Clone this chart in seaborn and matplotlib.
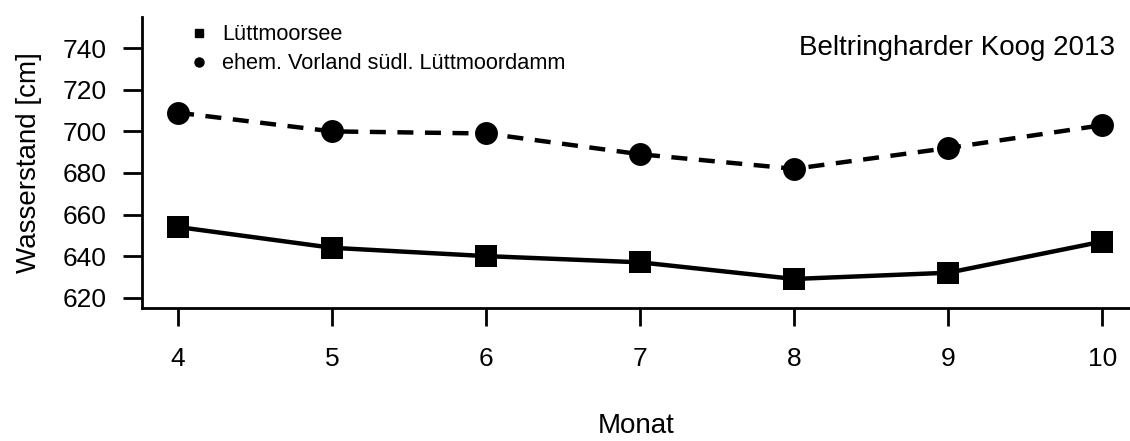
import numpy as np
import pandas as pd
import seaborn as sns
import matplotlib.pyplot as plt
from matplotlib.lines import Line2D

sns.set_style("ticks")
plt.rcParams["font.family"] = ["Liberation Sans", "DejaVu Sans"]
plt.rcParams["text.color"] = "black"
plt.rcParams["axes.labelcolor"] = "black"
plt.rcParams["xtick.color"] = "black"
plt.rcParams["ytick.color"] = "black"

# Werte
monate = [4, 5, 6, 7, 8, 9, 10]
luettmoorsee = [654, 644, 640, 637, 629, 632, 647]
vorland = [709, 700, 699, 689, 682, 692, 703]
namen = ["Lüttmoorsee", "ehem. Vorland südl. Lüttmoordamm"]

df = pd.DataFrame({
    "Monat": monate * 2,
    "Wasserstand": luettmoorsee + vorland,
    "Messstelle": [namen[0]] * len(monate) + [namen[1]] * len(monate),
})

fig = plt.figure(figsize=(11.3, 4.41), dpi=100)
ax = fig.add_axes([0.1257, 0.3005, 0.8743, 0.6617])

sns.lineplot(data=df, x="Monat", y="Wasserstand", style="Messstelle",
             markers={namen[0]: "s", namen[1]: "o"},
             dashes={namen[0]: "", namen[1]: (3.6, 2.6)},
             color="black", linewidth=3.2, markersize=16.5,
             markeredgewidth=0, legend=False, ax=ax)

ax.set_xlim(3.766, 10.18)
ax.set_ylim(614.8, 755.2)
ax.set_xticks(monate)
ax.set_yticks(np.arange(620, 741, 20))

sns.despine(ax=ax)
for s in ["left", "bottom"]:
    ax.spines[s].set_linewidth(2.0)
    ax.spines[s].set_color("black")
ax.tick_params(axis="x", length=13, width=2.0, pad=15, labelsize=19)
ax.tick_params(axis="y", length=13.5, width=2.0, pad=12, labelsize=19)

ax.set_xlabel("Monat", fontsize=20, labelpad=30)
ax.set_ylabel("Wasserstand [cm]", fontsize=20, labelpad=15)

ax.text(0.985, 0.894, "Beltringharder Koog 2013", transform=ax.transAxes,
        ha="right", va="center", fontsize=20)

handles = [
    Line2D([], [], marker="s", color="black", linestyle="none", markersize=6),
    Line2D([], [], marker="o", color="black", linestyle="none", markersize=6.5),
]
ax.legend(handles, namen, loc="upper left",
          bbox_to_anchor=(188 / 1130, 1 - 24.5 / 441),
          bbox_transform=fig.transFigure, frameon=False, fontsize=15.7,
          borderpad=0, borderaxespad=0, handlelength=1.0,
          handletextpad=0.56, labelspacing=0.35)

fig.savefig("out.png", dpi=100)
